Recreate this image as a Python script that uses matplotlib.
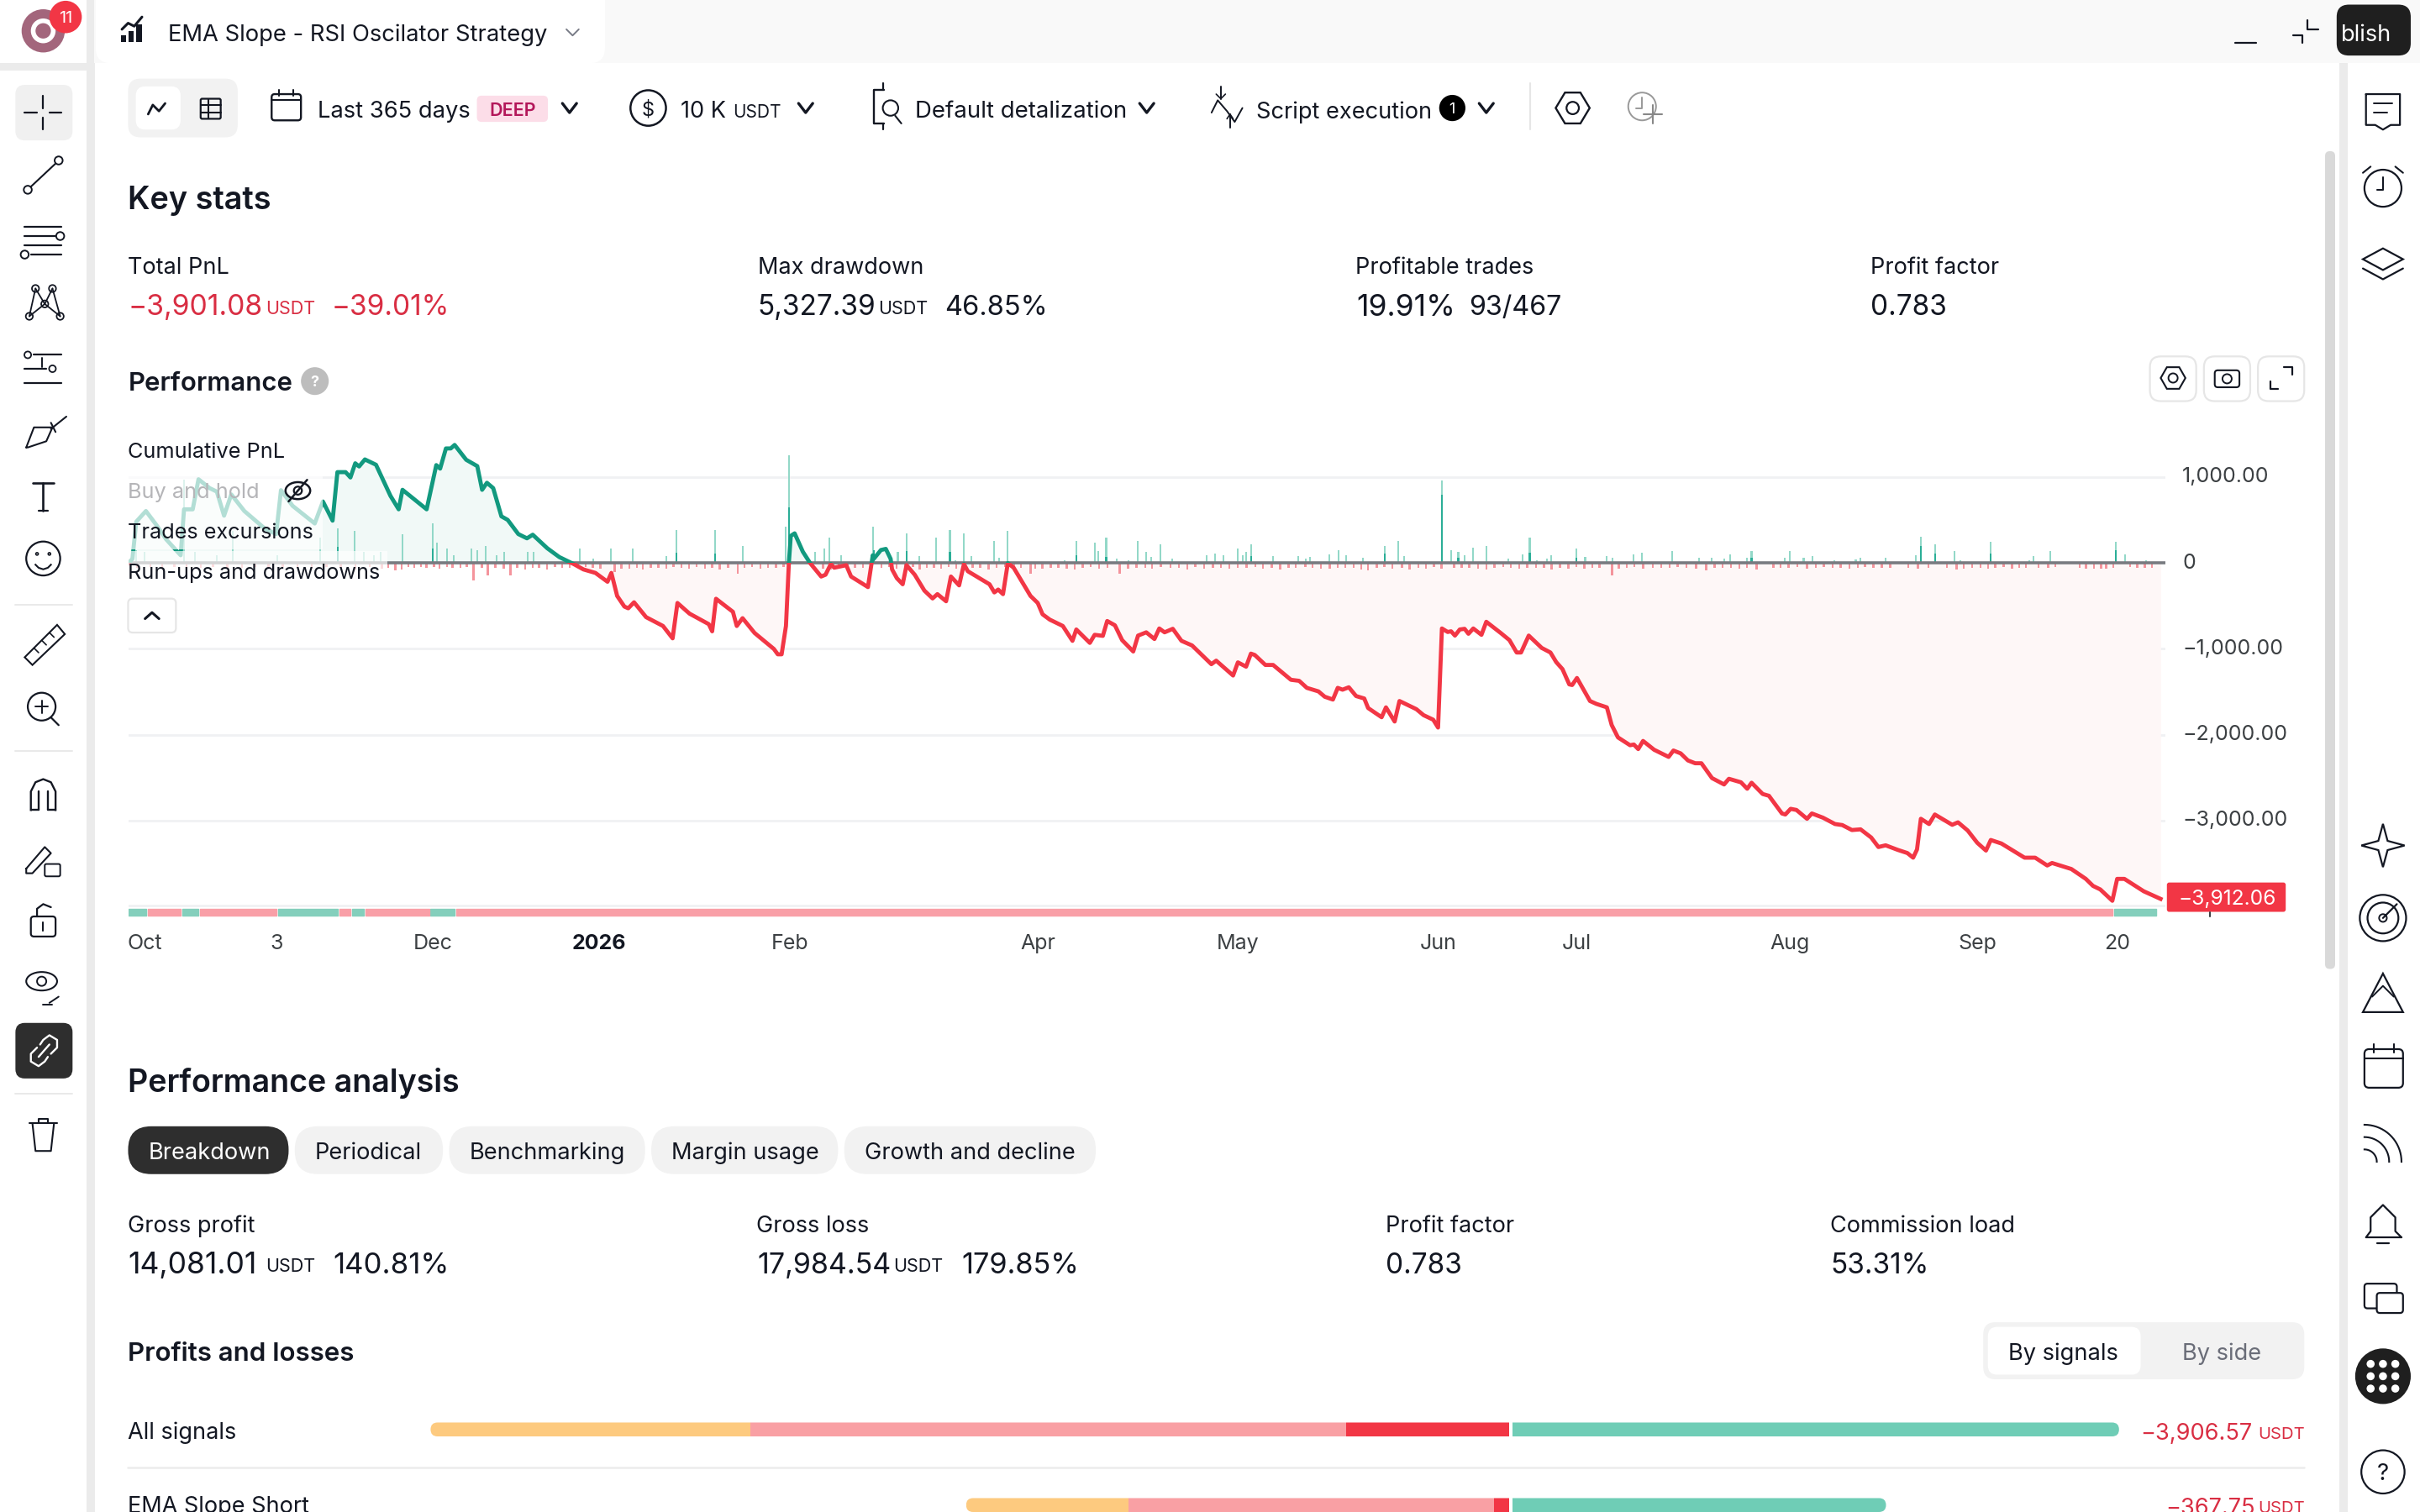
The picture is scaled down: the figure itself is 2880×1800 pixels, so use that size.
import matplotlib
matplotlib.use("Agg")
import matplotlib.pyplot as plt
import numpy as np
from matplotlib.patches import FancyBboxPatch, Rectangle, Circle, Polygon, Ellipse
from matplotlib.transforms import ScaledTranslation

plt.rcParams['font.family'] = ['Inter', 'Roboto', 'DejaVu Sans']

# ---------- data ----------
pnl_bar = [0,8,16,36,58,78,108,115,133,145,168,183,198,213,240,283,306,316,340,386,403,423,433,450,460,470,478,490,513,543,560,568,618,638,646,658,668,676,700,723,733,743,756,773,786,808,826,838,868,893,923,943,968,993,1001,1013,1028,1036,1048,1073,1108,1128,1138,1163,1203,1210,1218,1253,1261,1273,1298,1338,1346,1354,1363,1369,1373,1381,1398,1413,1436,1445,1456,1463,1488,1498,1533,1543,
 1545,1560,1570,1580,1583,1593,1605,1613,1630,1650,1667,1677,1695,1705,1722,1732,1740,1785,1795,1803,1813,1823,1835,1870,1885,1895,1910,1937,1957,1965,1993,2003,2020,2029,2045,2060,2083,2093,2110,2127,2137,2148,2165,2183,2205,2245,2255,2290,2300,2317,2327,2335,2357,2373,2410,2427,2443,2467,2480,2497,2507,2517,2530,2545,2562,2570,2598,2607,2625,2635,2670,2685,2705,2715,2723,2735,2742,2750,2760,2770,2778,2788,2805,2815,2845,2863,2878,2887,2903,2930,2948,2960,2973,2987,2993,3003,3030,
 3043,3065,3075,3088,3113,3121,3130,3140,3163,3193,3203,3218,3233,3248,3261,3283,3308,3318,3343,3356,3365,3388,3401,3428,3435,3446,3458,3480,3490,3513,3538,3553,3573,3591,3613,3628,3643,3668,3688,3700,3708,3716,3733,3745,3781,3793,3813,3833,3851,3861,3883,3931,3953,3978,3988,4028,4058,4073,4088,4113,4123,4138,4178,4213]
pnl_usdt = [0,49,482,606,441,276,91,626,626,976,873,832,552,799,606,399,338,849,667,461,717,494,1059,1059,997,1162,1125,1207,1145,783,626,853,626,1141,1100,1335,1335,1376,1203,1129,853,935,873,544,503,338,288,330,173,70,-12,-74,-115,-218,-115,-383,-507,-527,-457,-630,-733,-877,-465,-589,-712,-795,-416,-568,-733,-642,-815,-1001,-1063,-1063,-733,0,317,346,132,0,-157,-136,-12,-54,-25,-157,-280,91,
 49,152,165,49,-74,-177,-247,-25,-136,-321,-412,-362,-445,-157,-260,-12,-95,-247,-342,-309,-362,0,-54,-383,-465,-597,-659,-733,-906,-774,-930,-836,-848,-675,-725,-898,-1030,-845,-807,-885,-762,-807,-766,-906,-960,-1178,-1137,-1310,-1157,-1207,-1055,-1071,-1187,-1187,-1360,-1372,-1454,-1495,-1557,-1590,-1454,-1475,-1447,-1549,-1578,-1689,-1796,-1681,-1846,-1607,-1702,-1772,-1825,-1916,-762,-803,-795,-845,-774,-766,-824,-762,-836,-684,-815,-898,-1042,-1042,-845,-989,-1042,-1154,-1236,-1413,-1421,-1339,-1607,
 -1640,-1681,-1887,-2031,-2122,-2114,-2167,-2072,-2175,-2258,-2184,-2217,-2299,-2332,-2332,-2505,-2579,-2513,-2554,-2629,-2559,-2690,-2711,-2917,-2929,-2863,-2876,-2979,-2917,-2966,-3040,-3052,-3110,-3102,-3197,-3308,-3288,-3341,-3378,-3432,-3337,-2979,-3040,-2929,-3049,-3020,-3115,-3259,-3349,-3226,-3267,-3432,-3432,-3523,-3494,-3564,-3679,-3761,-3802,-3934,-3679,-3679,-3823,-3912]

runup_bar = [16,33,115,138,183,216,308,398,433,468,488,508,523,568,631,640,660,675,711,723,740,763,778,828,840,936,963,1000,1045,1115,1136,1216,1273,1363,1369,1423,1443,1453,1478,1543,
 1595,1613,1640,1675,1703,1715,1731,1748,1794,1805,1822,1940,1965,2003,2010,2027,2048,2073,2093,2110,2120,2139,2163,2235,2253,2270,2300,2310,2317,2327,2373,2425,2440,2450,2490,2508,2525,2560,2605,2633,2645,2723,2742,2757,2770,2787,2815,2860,2890,2905,2920,2940,2950,3002,3020,
 3065,3076,3121,3138,3201,3256,3283,3308,3320,3355,3365,3433,3445,3473,3491,3536,3581,3591,3643,3705,3716,3745,3786,3798,3860,3941,3950,3985,4121,4139,4183]
runup_usdt = [152,132,976,132,91,379,91,297,400,379,132,91,132,338,462,235,173,91,173,152,194,91,132,132,132,165,49,173,173,82,387,387,194,420,1260,132,173,297,91,420,
 132,346,82,297,387,29,346,82,256,62,371,37,256,235,140,297,49,29,256,132,70,214,49,91,111,91,173,91,132,214,82,82,49,70,99,152,91,58,194,256,82,960,152,132,91,181,194,49,99,297,37,49,91,173,70,
 82,62,99,124,140,58,62,49,99,58,140,62,140,62,82,29,41,62,62,91,309,222,140,37,243,37,82,140,247,99,37]
closed_bar = [433,631,1136,1216,1369,1545,1613,1703,1965,2027,2327,2605,2723,2757,2905,3002,3365,3716,3745,3860,4121]
closed_usdt = [190,170,120,110,647,150,140,130,90,70,80,110,800,60,120,60,60,200,110,110,150]

dd_bar = [18,45,70,95,120,150,175,205,235,262,290,320,350,380,410,440,470,500,525,538,553,566,580,592,606,618,633,645,660,672,688,701,715,733,745,760,778,792,806,822,838,851,868,884,899,915,931,948,963,978,1008,1022,1038,1054,1066,1083,1098,1115,1130,1146,1162,1178,1195,1210,1226,1243,1263,1277,1293,1310,1326,1342,1358,
 1440,1456,1472,1490,1506,1523,1561,1577,1592,1610,1626,1640,1655,1670,1685,1700,1716,1733,1750,1766,1783,1800,1817,1835,1850,1870,1880,1895,1912,1928,1945,1962,1978,1995,2012,2030,2055,2072,2090,2108,2122,2140,2160,2178,2195,2212,2230,2248,2265,2282,2300,2318,2336,2352,2370,2388,2405,2420,2440,2455,2472,2490,2507,2523,2540,2556,2570,2588,2604,2620,2640,2656,2674,2690,2706,2722,2748,2764,2780,2798,2815,2832,2850,2866,2883,2900,2918,2935,2950,2968,2985,3002,3018,3035,3050,
 3076,3090,3106,3122,3140,3160,3178,3195,3212,3230,3250,3271,3288,3305,3322,3340,3355,3375,3410,3425,3442,3460,3480,3498,3515,3533,3550,3568,3585,3600,3618,3635,3652,3690,3710,3732,3770,3790,3805,3822,3840,3855,3870,3888,3905,3920,3934,3960,3980,3995,4045,4058,4075,4090,4100,4115,4150,4165,4180,4195]
dd_usdt = [-55,-48,-70,-45,-62,-55,-48,-70,-55,-45,-62,-48,-55,-70,-48,-55,-80,-48,-70,-55,-82,-80,-48,-55,-48,-55,-48,-62,-45,-52,-60,-48,-206,-55,-148,-55,-70,-148,-55,-80,-52,-55,-80,-50,-55,-60,-52,-48,-58,-70,-107,-62,-70,-55,-80,-52,-60,-70,-50,-55,-62,-48,-70,-55,-80,-58,-128,-55,-48,-70,-55,-60,-50,
 -70,-80,-62,-55,-52,-60,-58,-48,-70,-55,-50,-80,-58,-52,-62,-48,-70,-55,-52,-60,-80,-55,-50,-66,-55,-124,-70,-62,-55,-52,-64,-74,-55,-50,-70,-55,-124,-62,-52,-58,-70,-50,-60,-55,-74,-48,-64,-55,-52,-70,-60,-55,-50,-66,-55,-78,-52,-60,-50,-55,-70,-64,-52,-58,-55,-74,-82,-55,-50,-66,-55,-78,-55,-64,-50,-70,-55,-60,-52,-64,-74,-55,-50,-60,-70,-55,-52,-58,-78,-55,-64,-50,-70,-55,-60,
 -148,-70,-55,-50,-64,-52,-55,-60,-50,-55,-70,-82,-55,-52,-60,-70,-52,-80,-60,-52,-55,-50,-70,-55,-50,-60,-52,-66,-55,-50,-60,-55,-52,-55,-70,-60,-55,-74,-64,-55,-52,-70,-60,-50,-66,-55,-52,-60,-55,-50,-55,-64,-70,-66,-64,-55,-50,-60,-55,-52]

win_spans = [(0,36),(111,34),(310,124),(464,24),(626,50),(4117,86)]
loss_spans = [(40,68),(148,158),(437,23),(491,132),(680,3433)]
strip_span = (-4107, 79)

y_ticks = [1000,0,-1000,-2000,-3000]
y_labels = ['1,000.00','0','\u22121,000.00','\u22122,000.00','\u22123,000.00']
x_ticks = [33,306,631,975,1371,1885,2300,2715,3003,3445,3833,4123]
x_labels = ['Oct','3','Dec','2026','Feb','Apr','May','Jun','Jul','Aug','Sep','20']

breakdown_rows = ['All signals','EMA Slope Short']
seg_colors = ['#fdca7f','#f9a0a4','#f23645','#6fcdb6']
seg_all = [7420,13830,3798,14081]
seg_short = [3762,8492,358,8671]

# ---------- figure ----------
fig = plt.figure(figsize=(28.8,18), dpi=100, facecolor='white')

def disp_axes(z):
    a = fig.add_axes([0,0,1,1], zorder=z)
    a.set_xlim(0,1568); a.set_ylim(980,0); a.axis('off'); a.patch.set_alpha(0)
    return a
bg = disp_axes(0)
top = disp_axes(10)

def rrect(a,x0,y0,x1,y1,r=4,fc='white',ec='none',lw=1,**k):
    p = FancyBboxPatch((x0,y0),x1-x0,y1-y0,boxstyle=f"round,pad=0,rounding_size={r}",fc=fc,ec=ec,lw=lw,**k)
    a.add_patch(p); return p
def T(x,y,s,size=19.5,color='#131722',weight='normal',ha='left',a=None,**k):
    return (a or top).text(x,y,s,fontsize=size,color=color,fontweight=weight,ha=ha,va='center_baseline',**k)
def L(xs,ys,c='#131722',lw=2.0,a=None,**k):
    (a or top).plot(xs,ys,color=c,lw=lw,solid_capstyle='round',**k)
def O(x,y,r,ec='#131722',lw=2.0,fc='none',a=None):
    (a or top).add_patch(Circle((x,y),r,fc=fc,ec=ec,lw=lw))
def chev(x,y,w=4.6,h=3,c='#131722',lw=2.4):
    L([x-w,x,x+w],[y-h,y+h,y-h],c,lw)

# ---------- page background ----------
bg.add_patch(Rectangle((0,0),1568,980,fc='white',ec='none'))
bg.add_patch(Rectangle((56,0),5.5,980,fc='#ebebeb',ec='none'))
bg.add_patch(Rectangle((0,41),56,5,fc='#ebebeb',ec='none'))
bg.add_patch(Rectangle((61,0),1455,41,fc='#f9f9f9',ec='none'))
rrect(bg,62,-12,392,41,r=10,fc='white')
bg.add_patch(Rectangle((1516,0),5,980,fc='#ebebeb',ec='none'))
bg.add_patch(Rectangle((1521,41),47,939,fc='white',ec='none'))
bg.add_patch(Rectangle((1516,0),52,41,fc='#f9f9f9',ec='none'))
rrect(bg,1506.5,98,1513,628,r=3,fc='#d9d9d9')

# ---------- chart ----------
ax = fig.add_axes([153/2880, 1-1095/1800, (2577-153)/2880, (1095-520)/1800], zorder=5)
ax.patch.set_alpha(0)
ax.set_xlim(0,(2577-153)/0.574)
ax.set_ylim((670.3-1095)/0.1022,(670.3-520)/0.1022)
for s in ax.spines.values(): s.set_visible(False)
ax.yaxis.tick_right()
ax.set_yticks(y_ticks); ax.set_yticklabels(y_labels)
ax.set_xticks(x_ticks); ax.set_xticklabels(x_labels)
ax.tick_params(axis='both',length=0,labelsize=18,labelcolor='#3c4043')
ax.tick_params(axis='y',pad=14.5)
ax.tick_params(axis='x',pad=12.5)
for l,t in zip(ax.get_xticklabels(),x_labels):
    if t=='2026': l.set_fontweight('bold'); l.set_color('#131722')
up = ScaledTranslation(0,2/72,fig.dpi_scale_trans)
for l in ax.get_yticklabels(): l.set_transform(l.get_transform()+up)
ax.set_axisbelow(True)
ax.grid(axis='y',color='#f0f1f3',lw=2)
ax.axhline(-3990,color='#f0f1f3',lw=2,zorder=0)

xmax, ymax, ymin = 5000, 3000, -6000
above = Rectangle((0,0),xmax,ymax,transform=ax.transData)
below = Rectangle((0,ymin),xmax,-ymin,transform=ax.transData)
f1 = ax.fill_between(pnl_bar,pnl_usdt,0,color='#f1f9f7',lw=0,zorder=1); f1.set_clip_path(above)
f2 = ax.fill_between(pnl_bar,pnl_usdt,0,color='#fef7f7',lw=0,zorder=1); f2.set_clip_path(below)
ax.bar(runup_bar,runup_usdt,width=3.6,color='#93d8c8',zorder=2)
ax.bar(closed_bar,closed_usdt,width=3.6,color='#2bae97',zorder=2)
ax.bar(dd_bar,dd_usdt,width=4.4,color='#f4949c',zorder=3.5)
ax.axhline(0,color='#787b80',lw=2.6,zorder=3.6)
l1, = ax.plot(pnl_bar,pnl_usdt,color='#12997f',lw=3.5,zorder=4,solid_joinstyle='round'); l1.set_clip_path(above)
l2, = ax.plot(pnl_bar,pnl_usdt,color='#f23645',lw=3.5,zorder=4,solid_joinstyle='round'); l2.set_clip_path(below)
ax.broken_barh(win_spans,strip_span,color='#84cfbc',zorder=3)
ax.broken_barh(loss_spans,strip_span,color='#f99fa7',zorder=3)
rrect(top,1404,572,1481,591,r=1.5,fc='#f23645')
T(1443,581.5,'\u22123,912.06',17.7,'white',ha='center')
L([1432,1432],[591,594],'#3c4043',1.5)

# ---------- legend over chart ----------
top.add_patch(Rectangle((83,306),126,50,fc='white',alpha=0.68,ec='none'))
top.add_patch(Rectangle((83,357),168,26,fc='white',alpha=0.68,ec='none'))
T(83,292,'Cumulative PnL',18.2)
T(83,318,'Buy and hold',18.2,'#b5b5b8')
T(83,344,'Trades excursions',18.2)
T(83,370,'Run-ups and drawdowns',18.2)
top.add_patch(Ellipse((193,318),16,11,fc='none',ec='#131722',lw=1.8))
O(193,318,2.6,lw=1.6); L([187,199],[325,311],lw=1.8)
rrect(top,83,388,114,410,r=3,fc='white',ec='#e6e6e6',lw=1.6)
L([94,98.5,103],[401,397,401],lw=2.2)

# ---------- header ----------
O(28,20,14,ec='#a3667c',lw=0,fc='#a3667c'); O(28,20,6.5,ec='white',lw=4,fc='none')
O(42.5,11,10.5,ec='#f23645',lw=0,fc='#f23645')
T(42.5,11,'11',14.5,'white',ha='center')
for x,h in ((80,4),(85,7),(90,11)):
    top.add_patch(Rectangle((x-1.8,27-h),3.6,h,fc='#131722',ec='none'))
L([79,83,87,92],[19,15,17,11],lw=2.2)
T(109,21,'EMA Slope - RSI Oscilator Strategy',19.7)
L([367,371,375],[19,23,19],'#787b86',1.4)
L([1448,1462],[28,28],lw=1.6)
L([1486,1492,1492],[23,23,28],lw=1.6); L([1495,1495,1502],[13,19,19],lw=1.6)
rrect(top,1514,3,1562,36,r=8,fc='#1f1f1f')
T(1517,21,'blish',19.5,'white')

# ---------- toolbar ----------
rrect(top,83,51,154,89,r=8,fc='#f2f2f2')
rrect(top,88,56,117,84,r=6,fc='white')
L([96,99,103,107],[74,68,72,67],lw=2)
rrect(top,130,64,143,77,r=1,fc='none',ec='#131722',lw=1.6)
L([130,143],[68,68],lw=1.5);L([130,143],[73,73],lw=1.5);L([135,135],[64,77],lw=1.5)
rrect(top,176,61,195,78,r=2,fc='none',ec='#131722',lw=1.7); L([176,195],[65,65],lw=1.5)
L([181,181],[58,62],lw=1.5);L([190,190],[58,62],lw=1.5)
T(206,71,'Last 365 days',19.7)
rrect(top,309,62,355,79,r=3,fc='#fcdde8')
T(332,71,'DEEP',15.5,'#b3175a','semibold',ha='center')
chev(369,70)
top.add_patch(Ellipse((420,70),23,23,fc='none',ec='#131722',lw=1.8))
T(420,70,'$',17,ha='center')
T(441,71,'10 K',19.5); T(475,72,'USDT',15)
chev(522,70)
L([573,566,566,573],[58,58,80,80],lw=1.7); L([572,572],[54,58],lw=1.6); L([572,572],[80,84],lw=1.6)
O(577,70,5,lw=1.5); L([580,584],[75,80],lw=1.5)
T(593,71,'Default detalization',19.9)
chev(743,70)
L([785,789,795,800,805],[73,65,72,79,70],lw=1.4)
L([791,791],[56,64],lw=1.4); L([788,791,794],[61,64,61],lw=1.2)
L([795,797,799],[77,74,77],lw=1.2); L([797,797],[74,83],lw=1.4)
T(814,71,'Script execution',19.6)
O(941,70,8.5,ec='#000000',lw=0,fc='#000000'); T(941,70,'1',13,'white',ha='center')
chev(963,70)
L([991.5,991.5],[54,84],'#e6e6e6',1.5)
hx=[1008,1014,1024,1030,1024,1014]; hy=[70,60,60,70,80,80]
top.add_patch(Polygon(list(zip(hx,hy)),closed=True,fc='none',ec='#131722',lw=1.7)); O(1019,70,4,lw=1.6)
O(1064,69,9,ec='#999999',lw=1.4); L([1064,1064,1060],[63,70,70],'#999',1.4)
L([1071,1071],[68,80],'#888',1.5); L([1065,1077],[74,74],'#888',1.5)

# ---------- key stats ----------
T(83,128,'Key stats',27.2,weight='semibold')
for x,s in ((83,'Total PnL'),(491,'Max drawdown'),(878,'Profitable trades'),(1212,'Profit factor')): T(x,172,s,19.5)
RED='#d92e43'
T(83,197.5,'\u22123,901.08',24.2,RED); T(172,199,'USDT',15.5,RED); T(215,197.5,'\u221239.01%',24,RED)
T(491,197.5,'5,327.39',24); T(569,199,'USDT',15.5); T(612,197.5,'46.85%',23.5)
T(879,197.5,'19.91%',25.5); T(952,197.5,'93/467',23.2)
T(1212,197.5,'0.783',24)
T(83,247,'Performance',22.4,weight='semibold')
O(204,247,9,ec='#bdbdbd',lw=0,fc='#bdbdbd'); T(204,247,'?',13,'white',ha='center',weight='bold')
for x in (1408,1443,1478):
    rrect(top,x-15,231,x+15,260,r=7,fc='white',ec='#e6e6e6',lw=1.6)
hx=[1400,1404,1412,1416,1412,1404]; hy=[245,238,238,245,252,252]
top.add_patch(Polygon(list(zip(hx,hy)),closed=True,fc='none',ec='#131722',lw=1.5)); O(1408,245,3,lw=1.4)
rrect(top,1435,240,1451,251,r=2,fc='none',ec='#131722',lw=1.5); O(1443,245.5,3,lw=1.4)
L([1471,1471,1476],[247,252,252],lw=1.6); L([1480,1485,1485],[238,238,243],lw=1.6)

# ---------- performance analysis ----------
T(83,700,'Performance analysis',27.1,weight='semibold')
pills=[(83,187,96,'Breakdown'),(191,287,204,'Periodical'),(291,418,304,'Benchmarking'),(422,543,435,'Margin usage'),(547,710,560,'Growth and decline')]
for i,(a0,a1,tx,s) in enumerate(pills):
    rrect(top,a0,730,a1,761,r=15,fc='#2e2e2e' if i==0 else '#f2f2f2')
    T(tx,746,s,19.6,'white' if i==0 else '#131722')
for x,s in ((83,'Gross profit'),(490,'Gross loss'),(898,'Profit factor'),(1186,'Commission load')): T(x,793,s,19.5)
T(83,818.5,'14,081.01',25.5); T(172,820,'USDT',15.5); T(216,818.5,'140.81%',25)
T(491,818.5,'17,984.54',24.5); T(579,820,'USDT',15.5); T(623,818.5,'179.85%',24.7)
T(898,818.5,'0.783',24); T(1186,818.5,'53.31%',24)
T(83,876,'Profits and losses',22.5,weight='semibold')
rrect(top,1285,857,1493,894,r=8,fc='#f2f2f2')
rrect(top,1288,860,1387,891,r=6,fc='white')
T(1301,876,'By signals',19.6); T(1414,876,'By side',19.6,'#6a6d78')
T(83,927,breakdown_rows[0],19.5)
T(83,975,breakdown_rows[1],19.5)
L([83,1493],[951,951],'#ececec',1.8)
T(1387,928,'\u22123,906.57',19.6,RED); T(1463,929,'USDT',14.6,RED)
T(1403,976,'\u2212367.75',19.6,RED); T(1463,977,'USDT',14.6,RED)

# stacked bars in their own axes (USDT-like scale, zero at the gap)
bar_ax = fig.add_axes([279/1568, 0, (1373-279)/1568, (980-915)/980], zorder=6)
bar_ax.patch.set_alpha(0); bar_ax.axis('off')
SCALE = 35.83
bar_ax.set_xlim((279-979)*SCALE,(1373-979)*SCALE)
bar_ax.set_ylim(980,915)
clip_rows = ((seg_all,926.5,4.5,279,1373),(seg_short,975.5,4.5,626,1222))
for seg,yc,hh,x0,x1 in clip_rows:
    clip = FancyBboxPatch((x0,yc-hh),x1-x0,2*hh,boxstyle="round,pad=0,rounding_size=4.5",transform=bg.transData)
    loss = seg[:3]; start = -sum(loss)-36
    for v,c in zip(loss,seg_colors[:3]):
        b = bar_ax.barh(yc,v,left=start,height=2*hh,color=c)
        b[0].set_clip_path(clip); start+=v
    b = bar_ax.barh(yc,seg[3],left=36,height=2*hh,color=seg_colors[3]); b[0].set_clip_path(clip)

# ---------- left toolbar ----------
rrect(top,10,55,47,91,r=6,fc='#f0f0f0')
L([28,28],[62,70],lw=1.6);L([28,28],[76,84],lw=1.6);L([16,24],[73,73],lw=1.6);L([32,40],[73,73],lw=1.6)
O(18,123,2.6,lw=1.4);O(38,104,2.6,lw=1.4);L([20,36],[121,106],lw=1.5)
for y,a0,a1 in ((147,16,40),(153,16,36),(159,16,40),(165,20,40)): L([a0,a1],[y,y],lw=1.6)
O(39,153,2.6,lw=1.4);O(16,165,2.6,lw=1.4)
pts=[(19,205),(23,187),(34,187),(39,205),(29,197)]
for i in ((0,1),(1,4),(4,2),(2,3),(4,3),(0,4)):
    L([pts[i[0]][0],pts[i[1]][0]],[pts[i[0]][1],pts[i[1]][1]],lw=1.3)
for p in pts: O(p[0],p[1],2.3,lw=1.3,fc='white')
for y,a0,a1 in ((230,22,40),(239,16,30),(248,16,40)): L([a0,a1],[y,y],lw=1.6)
O(18,230,2.2,lw=1.3);O(34,239,2.2,lw=1.3);L([27,27],[232,238],lw=1.4)
L([17,22,34,30,18,17],[290,277,277,286,290,290],lw=1.5); L([33,43],[278,270],lw=1.5); L([33,36],[274,280],lw=1.5)
L([21,35],[313,313],lw=1.9);L([28,28],[313,331],lw=1.9);L([25,31],[331,331],lw=1.6)
O(28,362,11,lw=1.6);O(24,359,0.8,lw=1.2);O(32,359,0.8,lw=1.2)
top.plot([23,25,28,31,33],[366,368,369,368,366],color='#131722',lw=1.5)
L([10,47],[392,392],'#e9e9e9',1.4)
top.add_patch(Polygon([(16,426),(37,405),(42,411),(21,431)],closed=True,fc='none',ec='#131722',lw=1.5))
for a,b in ((22,420),(27,415),(32,410)): L([a,a+3],[b,b+3],lw=1.2)
O(27,458,9,lw=1.6);L([33,38],[465,470],lw=1.6);L([27,27],[454,462],lw=1.4);L([23,31],[458,458],lw=1.4)
L([10,47],[487,487],'#e9e9e9',1.4)
top.plot([20,20,23,28,33,36,36],[525,513,507,505,507,513,525],color='#131722',lw=1.7)
L([25,25],[513,525],lw=1.7);L([31,31],[513,525],lw=1.7);L([20,25],[525,525],lw=1.7);L([31,36],[525,525],lw=1.7)
L([17,29,33,21,17,17],[563,549,553,566,566,563],lw=1.5)
rrect(top,29,560,39,568,r=1,fc='none',ec='#131722',lw=1.4)
rrect(top,20,594,36,607,r=2,fc='none',ec='#131722',lw=1.6); L([24,24,28,33],[594,589,586,588],lw=1.6); L([28,28],[598,603],lw=1.5)
top.add_patch(Ellipse((27,636),20,12,fc='none',ec='#131722',lw=1.5)); O(27,636,3,lw=1.4)
L([32,38],[650,646],lw=1.4);L([28,34],[651,651],lw=1.4)
rrect(top,10,663,47,699,r=6,fc='#2e2e2e')
L([24,20,20,25,29,31],[679,683,688,691,688,685],'white',1.7)
L([33,37,37,32,28,26],[683,679,674,671,674,677],'white',1.7)
L([25,32],[685,677],'white',1.7)
L([10,47],[709,709],'#e9e9e9',1.4)
L([19,37],[728,728],lw=1.5);L([25,25,31,31],[728,725,725,728],lw=1.5);L([21,23,33,35],[728,746,746,728],lw=1.5)

# ---------- right toolbar ----------
x=1544
L([1533,1555,1555,1549,1544,1539,1533,1533],[61,61,81,81,84,81,81,61],lw=1.6); L([1538,1550],[67,67],lw=1.4); L([1538,1547],[73,73],lw=1.4)
O(x,122,12,lw=1.6);L([x,x,x-4],[115,123,123],lw=1.5);L([1531,1536],[112,108],lw=1.5);L([1552,1557],[108,112],lw=1.5)
top.add_patch(Polygon([(1531,168),(x,161),(1557,168),(x,175)],closed=True,fc='none',ec='#131722',lw=1.6))
L([1531,x,1557],[174,181,174],lw=1.6)
top.add_patch(Polygon([(x,534),(1547,545),(1558,548),(1547,551),(x,562),(1541,551),(1530,548),(1541,545)],closed=True,fc='none',ec='#131722',lw=1.6))
O(x,595,15,lw=1.6);O(x,595,10,lw=1.6);O(x,595,2.5,lw=1.4);L([x,1553],[595,586],lw=1.6)
top.add_patch(Polygon([(1531,656),(1544,631),(1557,656)],closed=True,fc='none',ec='#131722',lw=1.6)); L([1537,1544,1551],[646,639,646],lw=1.4)
rrect(top,1532,680,1557,705,r=3,fc='none',ec='#131722',lw=1.6); L([1532,1557],[686,686],lw=1.5); L([1538,1538],[677,682],lw=1.5); L([1551,1551],[677,682],lw=1.5)
t=np.linspace(-np.pi/2,0,20)
for r in (8,16,24):
    top.plot(1532+r*np.cos(t),753+r*np.sin(t),color='#131722',lw=1.5)
L([1533,1536,1536,1544,1552,1552,1556],[802,798,789,781,789,798,802],lw=1.6); L([1533,1556],[802,802],lw=1.6); L([1540,1548],[806,806],lw=1.6)
rrect(top,1532,832,1553,848,r=2,fc='white',ec='#131722',lw=1.6); rrect(top,1540,838,1557,851,r=2,fc='white',ec='#131722',lw=1.6)
O(x,892,18,ec='#1f1f1f',lw=0,fc='#1f1f1f')
for xx in (1536,1544,1552):
    for yy in (884,892,900): O(xx,yy,2.6,ec='white',lw=0,fc='white')
O(x,954,14,lw=1.6); T(x,954,'?',20,ha='center')

fig.savefig('out.png',dpi=100)
